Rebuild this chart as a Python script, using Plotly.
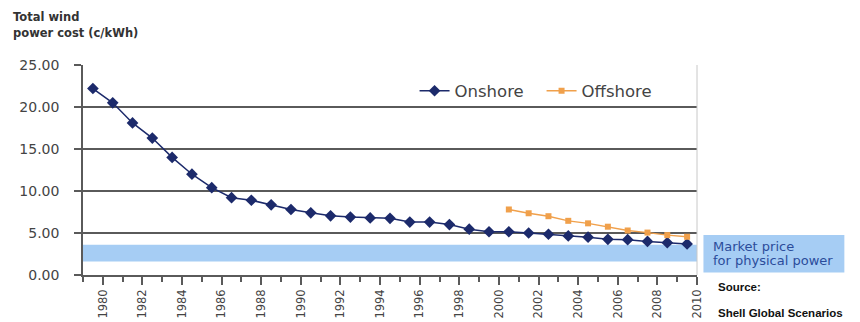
import plotly.graph_objects as go

# Total wind power cost, cents per kWh
years_onshore = list(range(1980, 2011))
onshore_cost = [22.2, 20.5, 18.1, 16.3, 14.0, 12.0, 10.4, 9.2, 8.9, 8.35, 7.8,
                7.4, 7.05, 6.9, 6.8, 6.75, 6.3, 6.3, 6.0, 5.45, 5.15, 5.15, 5.0,
                4.85, 4.65, 4.5, 4.25, 4.2, 4.0, 3.85, 3.7]
years_offshore = list(range(2001, 2011))
offshore_cost = [7.8, 7.35, 7.0, 6.45, 6.15, 5.75, 5.3, 5.05, 4.75, 4.55]

# Market price range for physical power (c/kWh)
market_price_band = [1.6, 3.6]

y_ticks = [0, 5, 10, 15, 20, 25]
x_label_years = list(range(1980, 2011, 2))

NAVY = "#1c2a6b"
ORANGE = "#f0a04b"
BAND = "#a6cdf4"
GRID = "#5a5a5a"
FONT = "DejaVu Sans"

fig = go.Figure()

fig.add_trace(go.Scatter(
    x=years_onshore, y=onshore_cost, name="Onshore", mode="lines+markers",
    line=dict(color=NAVY, width=1.5),
    marker=dict(symbol="diamond", size=9, color=NAVY),
))
fig.add_trace(go.Scatter(
    x=years_offshore, y=offshore_cost, name="Offshore", mode="lines+markers",
    line=dict(color=ORANGE, width=1.4),
    marker=dict(symbol="square", size=6, color=ORANGE),
))

# market price band across the plot
fig.add_shape(type="rect", xref="paper", yref="y", x0=0, x1=1,
              y0=market_price_band[0], y1=market_price_band[1],
              fillcolor=BAND, line_width=0, layer="below")
# label box to the right of the plot
fig.add_shape(type="rect", xref="paper", yref="paper",
              x0=1.0105, x1=1.24, y0=0.012, y1=0.19,
              fillcolor=BAND, line_width=0)
fig.add_annotation(xref="paper", yref="paper", x=1.022, y=0.135,
                   text="Market price", showarrow=False, xanchor="left",
                   yanchor="middle", font=dict(family=FONT, size=13, color="#2b4c9b"))
fig.add_annotation(xref="paper", yref="paper", x=1.022, y=0.068,
                   text="for physical power", showarrow=False, xanchor="left",
                   yanchor="middle", font=dict(family=FONT, size=13, color="#2b4c9b"))

# right border
fig.add_shape(type="line", xref="paper", yref="paper", x0=1, x1=1, y0=0, y1=1,
              line=dict(color="#c8c8c8", width=1))

# axis title
fig.add_annotation(xref="paper", yref="paper", x=-0.117, y=1.229,
                   text="<b>Total wind</b>", showarrow=False, xanchor="left",
                   yanchor="middle", font=dict(family=FONT, size=11.5, color="#333333"))
fig.add_annotation(xref="paper", yref="paper", x=-0.117, y=1.152,
                   text="<b>power cost (c/kWh)</b>", showarrow=False, xanchor="left",
                   yanchor="middle", font=dict(family=FONT, size=11.5, color="#333333"))

# source note
fig.add_annotation(xref="paper", yref="paper", x=1.031, y=-0.057,
                   text="<b>Source:</b>", showarrow=False, xanchor="left",
                   yanchor="middle", font=dict(family="Liberation Sans", size=11.5, color="#111111"))
fig.add_annotation(xref="paper", yref="paper", x=1.031, y=-0.181,
                   text="<b>Shell Global Scenarios</b>", showarrow=False, xanchor="left",
                   yanchor="middle", font=dict(family="Liberation Sans", size=11.5, color="#111111"))

fig.update_layout(
    width=860, height=322,
    margin=dict(l=83, r=163, t=65, b=47, autoexpand=False),
    paper_bgcolor="white", plot_bgcolor="white",
    font=dict(family=FONT, color="#444444"),
    showlegend=True,
    legend=dict(orientation="h", x=0.54, y=0.876, xanchor="left", yanchor="middle",
                bgcolor="rgba(0,0,0,0)", font=dict(family=FONT, size=16.5, color="#444444"),
                itemwidth=30, entrywidth=82, entrywidthmode="pixels"),
)

fig.update_xaxes(
    range=[1979.5, 2010.5], showgrid=False, zeroline=False, automargin=False,
    tickmode="array", tickvals=[y + 0.5 for y in x_label_years],
    ticktext=[str(y) for y in x_label_years], tickangle=-90,
    ticks="outside", ticklen=8, tickwidth=1.5, tickcolor=GRID,
    minor=dict(ticks="outside", dtick=1, tick0=0.5, ticklen=5, tickwidth=1.5,
               tickcolor=GRID, showgrid=False),
    tickfont=dict(family=FONT, size=11.5, color="#444444"),
    showline=True, linecolor=GRID, linewidth=1.5,
)
fig.update_yaxes(
    range=[0, 25], tickmode="array", tickvals=y_ticks, tickformat=".2f",
    showgrid=True, gridcolor=GRID, gridwidth=1.6, zeroline=False, automargin=False,
    ticks="outside", ticklen=7, tickwidth=1.5, tickcolor=GRID,
    ticklabelstandoff=12,
    tickfont=dict(family=FONT, size=14, color="#444444"),
    showline=True, linecolor=GRID, linewidth=1.5,
)

fig.write_html("out.html")
